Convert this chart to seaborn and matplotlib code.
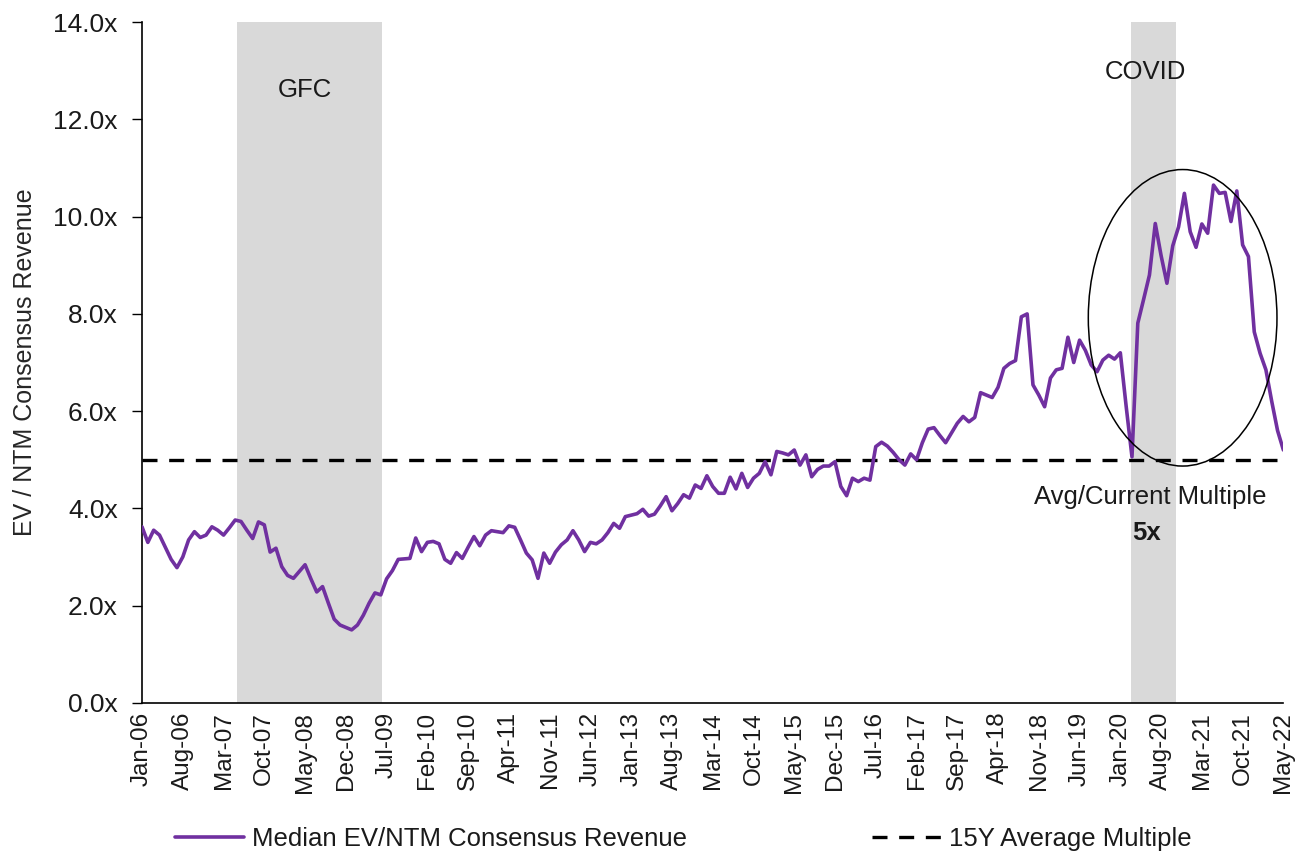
import numpy as np
import pandas as pd
import matplotlib
matplotlib.use("Agg")
import matplotlib.pyplot as plt
from matplotlib.patches import Ellipse
import seaborn as sns

# median EV / NTM consensus revenue, monthly from Jan-06
y2006 = [3.62, 3.30, 3.55, 3.45, 3.20, 2.95, 2.78, 3.00, 3.35, 3.52, 3.40, 3.45]
y2007 = [3.62, 3.55, 3.45, 3.60, 3.76, 3.73, 3.55, 3.38, 3.72, 3.66, 3.10, 3.18]
y2008 = [2.80, 2.62, 2.56, 2.70, 2.84, 2.55, 2.28, 2.39, 2.05, 1.72, 1.60, 1.55]
y2009 = [1.50, 1.60, 1.80, 2.05, 2.26, 2.22, 2.55, 2.72, 2.95, 2.96, 2.97, 3.39]
y2010 = [3.11, 3.30, 3.32, 3.27, 2.95, 2.87, 3.09, 2.97, 3.20, 3.42, 3.23, 3.45]
y2011 = [3.54, 3.52, 3.50, 3.64, 3.61, 3.35, 3.08, 2.94, 2.56, 3.08, 2.87, 3.10]
y2012 = [3.25, 3.35, 3.54, 3.35, 3.11, 3.30, 3.27, 3.35, 3.50, 3.69, 3.59, 3.83]
y2013 = [3.86, 3.89, 3.98, 3.84, 3.88, 4.05, 4.24, 3.95, 4.10, 4.28, 4.21, 4.48]
y2014 = [4.41, 4.67, 4.45, 4.31, 4.31, 4.64, 4.40, 4.72, 4.43, 4.62, 4.72, 4.96]
y2015 = [4.69, 5.17, 5.14, 5.10, 5.20, 4.89, 5.10, 4.65, 4.80, 4.87, 4.87, 4.96]
y2016 = [4.45, 4.26, 4.62, 4.55, 4.62, 4.58, 5.27, 5.36, 5.28, 5.15, 5.00, 4.89]
y2017 = [5.12, 5.00, 5.35, 5.63, 5.66, 5.50, 5.35, 5.55, 5.75, 5.89, 5.78, 5.87]
y2018 = [6.38, 6.33, 6.28, 6.49, 6.88, 6.98, 7.04, 7.94, 8.00, 6.54, 6.33, 6.09]
y2019 = [6.68, 6.85, 6.88, 7.52, 7.00, 7.46, 7.25, 6.95, 6.81, 7.05, 7.15, 7.07]
y2020 = [7.20, 6.10, 5.06, 7.81, 8.30, 8.80, 9.86, 9.20, 8.63, 9.40, 9.79, 10.48]
y2021 = [9.69, 9.37, 9.85, 9.66, 10.65, 10.48, 10.50, 9.90, 10.53, 9.42, 9.18, 7.63]
y2022 = [7.19, 6.85, 6.20, 5.60, 5.20]

avg_multiple = 5.0
gfc_span = (16.3, 41.2)      # month index, ~May-07 to Jun-09
covid_span = (169.8, 177.5)  # ~Mar-20 to Oct-20

multiple = (y2006 + y2007 + y2008 + y2009 + y2010 + y2011 + y2012 + y2013 +
            y2014 + y2015 + y2016 + y2017 + y2018 + y2019 + y2020 + y2021 + y2022)
months = pd.date_range("2006-01-01", periods=len(multiple), freq="MS")
df = pd.DataFrame({"idx": np.arange(len(multiple)), "multiple": multiple})

sns.set_style("white")
plt.rcParams['font.family'] = ['Liberation Sans', 'DejaVu Sans']
plt.rcParams['text.color'] = '#1a1a1a'

fig = plt.figure(figsize=(12.97, 8.56), dpi=100)
ax = fig.add_axes([0.1095, 0.179, 0.880, 0.795])

# shaded periods
ax.axvspan(*gfc_span, color="#D9D9D9", lw=0, zorder=0)
ax.axvspan(*covid_span, color="#D9D9D9", lw=0, zorder=0)

sns.lineplot(data=df, x="idx", y="multiple", ax=ax, color="#7030A0", lw=2.6,
             label="Median EV/NTM Consensus Revenue", legend=False, zorder=3)
ax.axhline(avg_multiple, color="black", lw=2.4, ls=(0, (4.5, 3.5)),
           label="15Y Average Multiple", zorder=2)

# circle around covid run-up
ax.add_patch(Ellipse((178.7, 7.92), width=32.4, height=6.1, fill=False,
                     edgecolor="black", lw=1.1, zorder=4))

ax.set_xlim(0, len(multiple) - 1)
ax.set_ylim(0, 14)
ax.set_yticks(np.arange(0, 14.1, 2))
ax.set_yticklabels([f"{v:.1f}x" for v in np.arange(0, 14.1, 2)], fontsize=19,
                   color="#1a1a1a")
tick_idx = np.arange(0, len(multiple), 7)
ax.set_xticks(tick_idx)
ax.set_xticklabels([months[i].strftime("%b-%y") for i in tick_idx],
                   rotation=90, fontsize=17.5, color="#1a1a1a")
ax.set_xlabel("")
ax.set_ylabel("EV / NTM Consensus Revenue", fontsize=18, labelpad=12)

for s in ["top", "right"]:
    ax.spines[s].set_visible(False)
for s in ["left", "bottom"]:
    ax.spines[s].set_color("black")
    ax.spines[s].set_linewidth(1.2)
ax.tick_params(axis="y", left=True, length=7.5, width=1.0, color="black", pad=10)
ax.tick_params(axis="x", bottom=False, pad=3)

ax.text(28, 12.6, "GFC", fontsize=18.5, ha="center", va="center")
ax.text(172.3, 12.97, "COVID", fontsize=18.5, ha="center", va="center")
ax.text(173.2, 4.23, "Avg/Current Multiple", fontsize=18.5, ha="center", va="center")
ax.text(172.5, 3.5, "5x", fontsize=18.5, fontweight="bold", ha="center", va="center")

handles, labels = ax.get_legend_handles_labels()
fig.legend(handles, labels, loc="center", bbox_to_anchor=(0.527, 0.02), ncol=2,
           frameon=False, fontsize=18.5, handlelength=2.7, handletextpad=0.3,
           columnspacing=7.2)

fig.savefig("out.png", dpi=100)
